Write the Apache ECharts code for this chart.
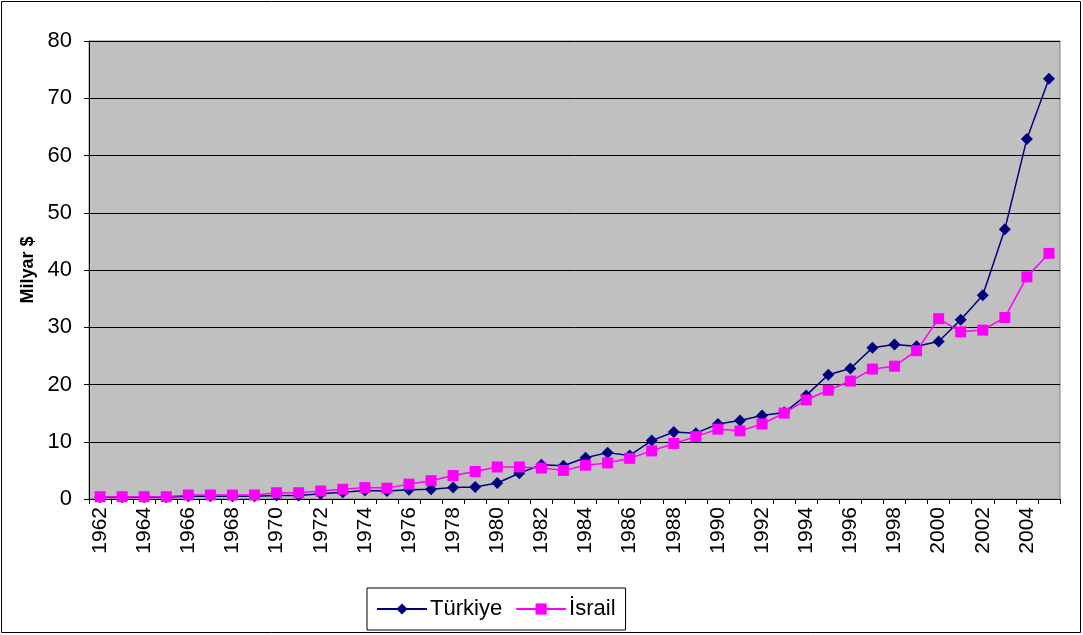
<!DOCTYPE html>
<html>
<head>
<meta charset="utf-8">
<script src="https://cdn.jsdelivr.net/npm/echarts@6/dist/echarts.min.js"></script>
<style>
  html, body { margin: 0; padding: 0; background: #fff; }
  #chart { width: 1083px; height: 635px; }
</style>
</head>
<body>
<div id="chart"></div>
<script>
// years on the x axis
const years = []
for (let y = 1962; y <= 2005; y++) years.push(String(y))

// Milyar $ values
const turkiye = [0.3, 0.3, 0.3, 0.3, 0.5, 0.5, 0.5, 0.5, 0.6, 0.6,
    0.9, 1.2, 1.5, 1.4, 1.6, 1.7, 2.0, 2.1, 2.8, 4.5,
    6.0, 5.8, 7.2, 8.1, 7.6, 10.2, 11.7, 11.5, 13.1, 13.7,
    14.6, 15.1, 18.1, 21.7, 22.8, 26.4, 27.0, 26.7, 27.5, 31.3,
    35.6, 47.1, 62.9, 73.4]
const israil = [0.4, 0.4, 0.4, 0.4, 0.7, 0.7, 0.7, 0.7, 1.1, 1.1,
    1.4, 1.7, 2.0, 1.9, 2.6, 3.2, 4.1, 4.8, 5.6, 5.6,
    5.4, 5.0, 5.9, 6.3, 7.1, 8.4, 9.7, 10.9, 12.2, 11.9,
    13.1, 15.0, 17.3, 19.0, 20.6, 22.7, 23.2, 25.9, 31.5, 29.2,
    29.5, 31.7, 38.8, 42.9]
const yTicks = { min: 0, max: 80, interval: 10 }

const FONT = '"Liberation Sans", Arial, sans-serif'

let chart = echarts.init(document.getElementById('chart'))
let option = {
    animation: false,
    backgroundColor: '#fff',
    graphic: [{
        type: 'rect',
        shape: { x: 1.5, y: 1.5, width: 1079, height: 631 },
        style: { fill: 'none', stroke: '#000', lineWidth: 1 },
        silent: true
    }],
    grid: {
        left: 89,
        right: 23,
        top: 41,
        bottom: 136,
        show: true,
        backgroundColor: '#C0C0C0',
        borderColor: '#808080',
        borderWidth: 1
    },
    legend: {
        bottom: 5,
        left: 367,
        itemWidth: 50,
        itemHeight: 14,
        itemGap: 13,
        padding: [10, 10, 10, 9],
        borderColor: '#000',
        borderWidth: 1,
        textStyle: { fontFamily: FONT, fontSize: 22, color: '#000', padding: [0, 0, 0, -2] },
        data: ['Türkiye', 'İsrail']
    },
    xAxis: {
        type: 'category',
        data: years,
        boundaryGap: true,
        axisLine: { lineStyle: { color: '#000', width: 1 } },
        axisTick: { show: true, interval: 0, length: 5, lineStyle: { color: '#000' } },
        axisLabel: {
            interval: 1,
            rotate: 90,
            margin: 8,
            color: '#000',
            fontFamily: FONT,
            fontSize: 21
        },
        splitLine: { show: false }
    },
    yAxis: {
        type: 'value',
        min: yTicks.min,
        max: yTicks.max,
        interval: yTicks.interval,
        name: 'Milyar $',
        nameLocation: 'middle',
        nameGap: 51,
        nameTextStyle: { fontFamily: FONT, fontSize: 18, fontWeight: 'bold', color: '#000' },
        axisLine: { show: true, lineStyle: { color: '#000', width: 1 } },
        axisTick: { show: true, length: 5, lineStyle: { color: '#000' } },
        axisLabel: { color: '#000', fontFamily: FONT, fontSize: 22, margin: 17 },
        splitLine: { show: true, lineStyle: { color: '#000', width: 1 } }
    },
    series: [
        {
            name: 'Türkiye',
            type: 'line',
            data: turkiye,
            symbol: 'diamond',
            symbolSize: 12,
            color: '#000080',
            lineStyle: { color: '#000080', width: 1.5 },
            itemStyle: { color: '#000080' },
            z: 2
        },
        {
            name: 'İsrail',
            type: 'line',
            data: israil,
            symbol: 'rect',
            symbolSize: 11,
            color: '#FF00FF',
            lineStyle: { color: '#FF00FF', width: 1.5 },
            itemStyle: { color: '#FF00FF' },
            z: 3
        }
    ]
}
chart.setOption(option)
</script>
</body>
</html>
